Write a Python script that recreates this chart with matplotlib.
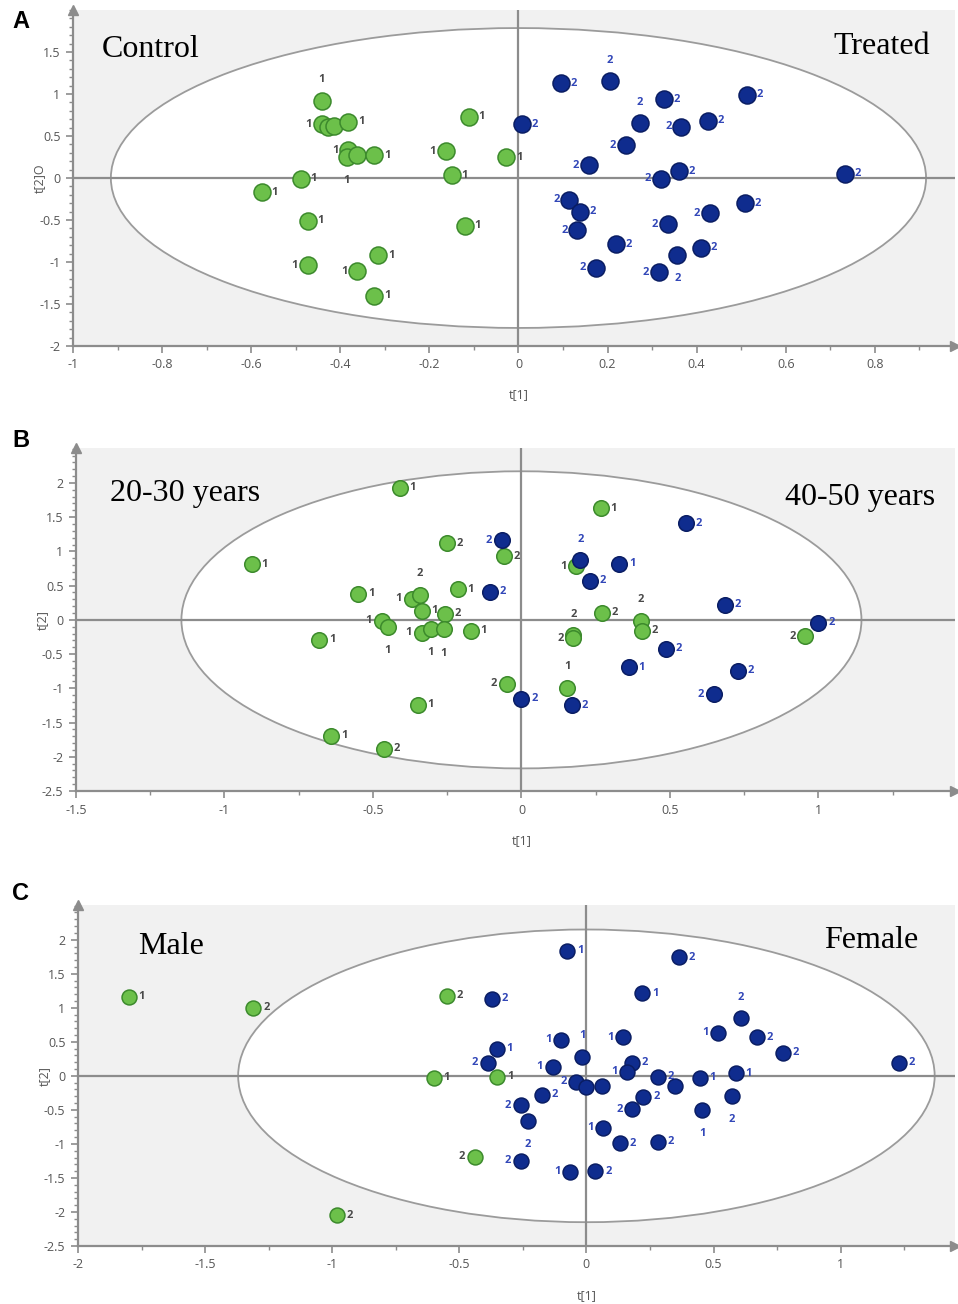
import matplotlib
matplotlib.use('Agg')
import matplotlib.pyplot as plt
from matplotlib.patches import Ellipse
from matplotlib.ticker import FuncFormatter, MultipleLocator
import matplotlib.transforms as mtransforms

plt.rcParams['axes.unicode_minus'] = False

# ---- panel A : Control (1) vs Treated (2) ----
a_x1 = [-0.442, -0.442, -0.428, -0.413, -0.382, -0.382, -0.386, -0.362, -0.324, -0.489, -0.576,
        -0.473, -0.473, -0.315, -0.362, -0.324, -0.163, -0.112, -0.150, -0.121, -0.027]
a_y1 = [0.92, 0.64, 0.61, 0.62, 0.67, 0.33, 0.25, 0.27, 0.27, -0.01, -0.17,
        -0.51, -1.04, -0.92, -1.11, -1.40, 0.32, 0.73, 0.03, -0.57, 0.25]
a_s1 = ['t', 'l', '', '', 'r', 'l', 'b', '', 'r', 'r', 'r',
        'r', 'l', 'r', 'l', 'r', 'l', 'r', 'r', 'r', 'r']
a_x2 = [0.096, 0.205, 0.326, 0.513, 0.007, 0.272, 0.366, 0.426, 0.241, 0.158, 0.361, 0.319,
        0.732, 0.114, 0.138, 0.132, 0.509, 0.429, 0.335, 0.219, 0.409, 0.357, 0.174, 0.315]
a_y2 = [1.13, 1.15, 0.94, 0.99, 0.64, 0.65, 0.61, 0.68, 0.39, 0.15, 0.08, -0.01,
        0.05, -0.26, -0.40, -0.62, -0.30, -0.42, -0.55, -0.79, -0.83, -0.92, -1.07, -1.12]
a_s2 = ['r', 't', 'r', 'r', 'r', 't', 'l', 'r', 'l', 'l', 'r', 'l',
        'r', 'l', 'r', 'l', 'r', 'l', 'l', 'r', 'r', 'b', 'l', 'l']
a_ellipse = [1.83, 3.57]

# ---- panel B : 20-30 years (green) vs 40-50 years (blue) ----
b_xg = [-0.409, -0.252, -0.909, -0.550, -0.215, -0.681, -0.349, -0.641, -0.463, -0.060,
        -0.369, -0.342, -0.336, -0.258, -0.470, -0.450, -0.336, -0.305, -0.262, -0.171,
        -0.050, 0.268, 0.185, 0.272, 0.175, 0.175, 0.402, 0.406, 0.956, 0.155]
b_yg = [1.93, 1.12, 0.81, 0.38, 0.45, -0.29, -1.24, -1.69, -1.88, 0.93,
        0.31, 0.37, 0.13, 0.09, -0.01, -0.10, -0.19, -0.13, -0.14, -0.16,
        -0.93, 1.63, 0.78, 0.10, -0.22, -0.27, -0.01, -0.16, -0.24, -0.99]
b_lg = ['1', '2', '1', '1', '1', '1', '1', '1', '2', '2',
        '1', '2', '1', '2', '1', '1', '1', '1', '1', '1',
        '2', '1', '1', '2', '2', '2', '2', '2', '2', '1']
b_sg = ['r', 'r', 'r', 'r', 'r', 'r', 'r', 'r', 'r', 'r',
        'l', 't', 'r', 'r', 'l', 'b', 'l', 'b', 'b', 'r',
        'l', 'r', 'l', 'r', 't', 'l', 't', 'r', 'l', 't']
b_xb = [-0.067, -0.107, 0.000, 0.554, 0.198, 0.329, 0.231, 0.684, 0.487, 1.000,
        0.362, 0.728, 0.171, 0.648]
b_yb = [1.16, 0.41, -1.15, 1.41, 0.87, 0.82, 0.57, 0.22, -0.42, -0.04,
        -0.69, -0.74, -1.25, -1.09]
b_lb = ['2', '2', '2', '2', '2', '1', '2', '2', '2', '2', '1', '2', '2', '2']
b_sb = ['l', 'r', 'r', 'r', 't', 'r', 'r', 'r', 'r', 'r', 'r', 'r', 'r', 'l']
b_ellipse = [2.29, 4.34]

# ---- panel C : Male (green) vs Female (blue) ----
c_xg = [-1.80, -1.31, -0.55, -0.60, -0.35, -0.44, -0.98]
c_yg = [1.16, 1.00, 1.18, -0.03, -0.01, -1.19, -2.05]
c_lg = ['1', '2', '2', '1', '1', '2', '2']
c_sg = ['r', 'r', 'r', 'r', 'r', 'l', 'r']
c_xb = [-0.373, 0.220, -0.075, 0.365, 1.23, 0.773, -0.353, -0.388, -0.098, -0.016,
        0.145, 0.518, 0.608, 0.671, -0.133, 0.180, 0.161, -0.039, 0.000, 0.063,
        0.282, 0.349, 0.447, 0.588, 0.573, 0.455, -0.176, -0.259, -0.231, 0.224,
        0.180, 0.067, 0.133, 0.282, -0.259, -0.063, 0.035]
c_yb = [1.13, 1.21, 1.84, 1.74, 0.19, 0.34, 0.40, 0.19, 0.53, 0.28,
        0.57, 0.63, 0.85, 0.57, 0.13, 0.19, 0.06, -0.09, -0.16, -0.15,
        -0.01, -0.15, -0.03, 0.04, -0.29, -0.50, -0.28, -0.43, -0.66, -0.31,
        -0.49, -0.76, -0.99, -0.97, -1.25, -1.41, -1.40]
c_lb = ['2', '1', '1', '2', '2', '2', '1', '2', '1', '1',
        '1', '1', '2', '2', '1', '2', '1', '2', '2', '1',
        '2', '2', '1', '1', '2', '1', '2', '2', '2', '2',
        '2', '1', '2', '2', '2', '1', '2']
c_sb = ['r', 'r', 'r', 'r', 'r', 'r', 'r', 'l', 'l', 't',
        'l', 'l', 't', 'r', 'l', 'r', 'l', 'l', '', '',
        'r', '', 'r', 'r', 'b', 'b', 'r', 'l', 'b', 'r',
        'l', 'l', 'r', 'r', 'l', 'l', 'r']
c_ellipse = [2.74, 4.30]

GREEN, GREEN_EDGE = '#6cc04a', '#3c8a2c'
BLUE, BLUE_EDGE = '#0f2c8e', '#0a1d63'
GREEN_TXT, BLUE_TXT = '#4a4a4a', '#3247b8'
AXCOL = '#8c8c8c'

# label offsets in points for each side code
OFFS = {'r': (7, 0, 'left', 'center'), 'l': (-7, 0, 'right', 'center'),
        't': (0, 15, 'center', 'center'), 'b': (0, -17, 'center', 'center')}


def fmt(v, pos):
    return '%g' % v


# sets up the grey frame, the ellipse, the cross and the arrows
def setup_axes(ax, xlim, ylim, xticks, yticks, xminor, ell, ylab):
    ax.set_facecolor('#f1f1f1')
    ax.set_xlim(xlim)
    ax.set_ylim(ylim)
    for s in ['top', 'right']:
        ax.spines[s].set_visible(False)
    for s in ['left', 'bottom']:
        ax.spines[s].set_color(AXCOL)
        ax.spines[s].set_linewidth(1.6)
    ax.set_xticks(xticks)
    ax.set_yticks(yticks)
    ax.xaxis.set_minor_locator(MultipleLocator(xminor))
    ax.yaxis.set_minor_locator(MultipleLocator(0.1))
    ax.xaxis.set_major_formatter(FuncFormatter(fmt))
    ax.yaxis.set_major_formatter(FuncFormatter(fmt))
    ax.tick_params(which='major', length=5, width=1.2, color=AXCOL, labelsize=9,
                   labelcolor='#555555', pad=4)
    ax.tick_params(which='minor', length=3, width=1, color=AXCOL)
    for lab in ax.get_xticklabels() + ax.get_yticklabels():
        lab.set_family('Open Sans')
    e = Ellipse((0, 0), ell[0], ell[1], facecolor='white', edgecolor='#9b9b9b', lw=1.3, zorder=1)
    ax.add_patch(e)
    ax.axhline(0, color=AXCOL, lw=1.6, zorder=2)
    ax.axvline(0, color=AXCOL, lw=1.6, zorder=2)
    ax.plot(1, 0, '>', color=AXCOL, ms=7, transform=ax.transAxes, clip_on=False, zorder=5)
    ax.plot(0, 1, '^', color=AXCOL, ms=7, transform=ax.transAxes, clip_on=False, zorder=5)
    tr = mtransforms.blended_transform_factory(ax.transData, ax.transAxes)
    ax.text(0, -0.145, 't[1]', transform=tr, ha='center', va='center', fontsize=9,
            color='#555555', family='Open Sans')
    tr2 = mtransforms.blended_transform_factory(ax.transAxes, ax.transData)
    ax.text(-0.038, 0, ylab, transform=tr2, ha='center', va='center', rotation=90,
            fontsize=9, color='#555555', family='Open Sans')


def draw_points(ax, xs, ys, labels, sides, face, edge, tcol, size):
    ax.scatter(xs, ys, s=size, c=face, edgecolors=edge, linewidths=1.1, zorder=3)
    for x, y, lab, sd in zip(xs, ys, labels, sides):
        if sd == '':
            continue
        dx, dy, ha, va = OFFS[sd]
        ax.annotate(lab, (x, y), xytext=(dx, dy), textcoords='offset points', ha=ha, va=va,
                    fontsize=8, color=tcol, family='Open Sans', fontweight='bold', zorder=4)


fig = plt.figure(figsize=(9.58, 13.04), dpi=100)
W, H = 958.0, 1304.0

# panel A
axA = fig.add_axes([73 / W, 1 - 346 / H, (955 - 73) / W, (346 - 10) / H])
setup_axes(axA, (-1, 0.98), (-2, 2.0), [-1, -0.8, -0.6, -0.4, -0.2, 0, 0.2, 0.4, 0.6, 0.8],
           [-2, -1.5, -1, -0.5, 0, 0.5, 1, 1.5], 0.1, a_ellipse, 't[2]O')
draw_points(axA, a_x1, a_y1, ['1'] * len(a_x1), a_s1, GREEN, GREEN_EDGE, GREEN_TXT, 150)
draw_points(axA, a_x2, a_y2, ['2'] * len(a_x2), a_s2, BLUE, BLUE_EDGE, BLUE_TXT, 150)

# panel B
axB = fig.add_axes([76 / W, 1 - 791 / H, (955 - 76) / W, (791 - 448) / H])
setup_axes(axB, (-1.5, 1.46), (-2.5, 2.51), [-1.5, -1, -0.5, 0, 0.5, 1],
           [-2.5, -2, -1.5, -1, -0.5, 0, 0.5, 1, 1.5, 2], 0.25, b_ellipse, 't[2]')
draw_points(axB, b_xg, b_yg, b_lg, b_sg, GREEN, GREEN_EDGE, GREEN_TXT, 125)
draw_points(axB, b_xb, b_yb, b_lb, b_sb, BLUE, BLUE_EDGE, BLUE_TXT, 125)

# panel C
axC = fig.add_axes([78 / W, 1 - 1246 / H, (955 - 78) / W, (1246 - 905) / H])
setup_axes(axC, (-2, 1.45), (-2.5, 2.51), [-2, -1.5, -1, -0.5, 0, 0.5, 1],
           [-2.5, -2, -1.5, -1, -0.5, 0, 0.5, 1, 1.5, 2], 0.25, c_ellipse, 't[2]')
draw_points(axC, c_xg, c_yg, c_lg, c_sg, GREEN, GREEN_EDGE, GREEN_TXT, 115)
draw_points(axC, c_xb, c_yb, c_lb, c_sb, BLUE, BLUE_EDGE, BLUE_TXT, 115)

# group names
serif = 'Liberation Serif'
axA.text(0.033, 0.881, 'Control', transform=axA.transAxes, fontsize=23, family=serif, va='center')
axA.text(0.972, 0.890, 'Treated', transform=axA.transAxes, fontsize=23, family=serif,
         va='center', ha='right')
axB.text(0.039, 0.866, '20-30 years', transform=axB.transAxes, fontsize=23, family=serif, va='center')
axB.text(0.977, 0.857, '40-50 years', transform=axB.transAxes, fontsize=23, family=serif,
         va='center', ha='right')
axC.text(0.068, 0.877, 'Male', transform=axC.transAxes, fontsize=23, family=serif, va='center')
axC.text(0.958, 0.897, 'Female', transform=axC.transAxes, fontsize=23, family=serif,
         va='center', ha='right')

# panel letters
for lab, yy in [('A', 22), ('B', 440), ('C', 893)]:
    fig.text(12 / W, 1 - yy / H, lab, fontsize=17, fontweight='bold', family='Liberation Sans',
             va='center')

fig.savefig('out.png', dpi=100)
